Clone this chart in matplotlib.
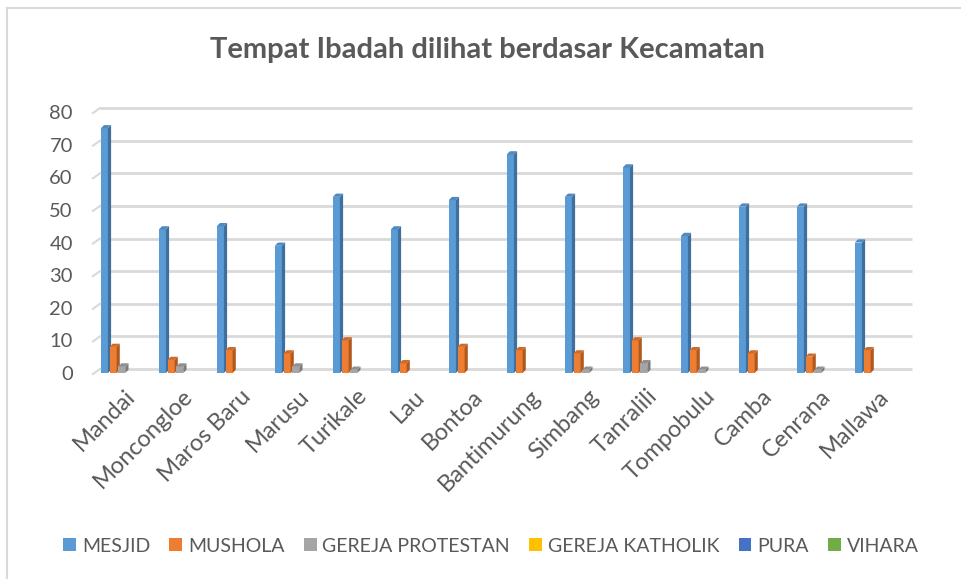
import matplotlib
matplotlib.use("Agg")
import matplotlib.pyplot as plt
import matplotlib.transforms as mtransforms
from matplotlib.patches import Polygon, Rectangle
from matplotlib.lines import Line2D

categories = ["Mandai", "Moncongloe", "Maros Baru", "Marusu", "Turikale", "Lau",
              "Bontoa", "Bantimurung", "Simbang", "Tanralili", "Tompobulu",
              "Camba", "Cenrana", "Mallawa"]
series_names = ["MESJID", "MUSHOLA", "GEREJA PROTESTAN", "GEREJA KATHOLIK", "PURA", "VIHARA"]
mesjid = [75, 44, 45, 39, 54, 44, 53, 67, 54, 63, 42, 51, 51, 40]
mushola = [8, 4, 7, 6, 10, 3, 8, 7, 6, 10, 7, 6, 5, 7]
gereja_protestan = [2, 2, 0, 2, 1, 0, 0, 0, 1, 3, 1, 0, 1, 0]
gereja_katholik = [0] * 14
pura = [0] * 14
vihara = [0] * 14
yticks = [0, 10, 20, 30, 40, 50, 60, 70, 80]

series = [mesjid, mushola, gereja_protestan, gereja_katholik, pura, vihara]
front = ["#5B9BD5", "#ED7D31", "#A5A5A5", "#FFC000", "#4472C4", "#70AD47"]
side = ["#3F6F9C", "#B0591F", "#7A7A7A", "#BF9000", "#2F5597", "#507E32"]
top = ["#4F89BE", "#D06A26", "#909090", "#E0A800", "#3A62AC", "#5F9A3C"]

W, H = 961, 579
fig = plt.figure(figsize=(W / 100, H / 100), dpi=100)
fig.patch.set_facecolor("white")

# chart border (left & top visible)
fig.add_artist(Line2D([7 / W, 7 / W], [0, 1 - 8 / H], transform=fig.transFigure,
                      color="#D9D9D9", lw=1.5))
fig.add_artist(Line2D([7 / W, 1], [1 - 8 / H, 1 - 8 / H], transform=fig.transFigure,
                      color="#D9D9D9", lw=1.5))

x0, x1 = 95, 907
y0, y1 = 373, 112
ax = fig.add_axes([x0 / W, 1 - y0 / H, (x1 - x0) / W, (y0 - y1) / H])
ax.set_xlim(-0.5, len(categories) - 0.5)
ax.set_ylim(0, 80)
for s in ax.spines.values():
    s.set_visible(False)
ax.set_yticks(yticks)
ax.set_yticklabels([str(t) for t in yticks])
ax.tick_params(axis="y", length=0, pad=16, labelsize=14.5, labelcolor="#595959")
ax.set_xticks(range(len(categories)))
ax.set_xticklabels(categories, rotation=45, ha="right", va="top",
                   rotation_mode="anchor")
ax.tick_params(axis="x", length=0, pad=9, labelsize=17, labelcolor="#595959")
for lab in ax.get_xticklabels() + ax.get_yticklabels():
    lab.set_family("Lato")

# back gridlines with 3D offset
ddx, ddy = 5 / 100, 4 / 100  # inches
off = mtransforms.ScaledTranslation(ddx, ddy, fig.dpi_scale_trans)
for t in yticks:
    ax.plot([-0.5, len(categories) - 0.5 - 0.0], [t, t], color="#D9D9D9", lw=2,
            transform=ax.transData + off, zorder=0, clip_on=False,
            solid_capstyle="butt")
    p0 = ax.transData.transform((-0.5, t))
    p1 = (ax.transData + off).transform((-0.5, t))
    fig.add_artist(Line2D([(p0[0] - 2) / W, p1[0] / W], [(p0[1] - 1) / H, p1[1] / H],
                          transform=fig.transFigure, color="#D9D9D9", lw=1.5))

bw = 0.15
start = -0.40
inv = ax.transData.inverted()
o = ax.transData.transform((0, 0))
d = inv.transform((o[0] + 3.2, o[1] + 3.2))
dxd, dyd = d[0], d[1]

for si, vals in enumerate(series):
    for ci, v in enumerate(vals):
        if v <= 0:
            continue
        xl = ci + start + si * bw
        xr = xl + bw - dxd * 0.5
        ax.add_patch(Rectangle((xl, 0), xr - xl, v, facecolor=front[si],
                               edgecolor="none", zorder=3 + si))
        ax.add_patch(Polygon([(xr, 0), (xr + dxd, dyd), (xr + dxd, v + dyd), (xr, v)],
                             closed=True, facecolor=side[si], edgecolor="none",
                             zorder=3 + si))
        ax.add_patch(Polygon([(xl, v), (xl + dxd, v + dyd), (xr + dxd, v + dyd), (xr, v)],
                             closed=True, facecolor=top[si], edgecolor="none",
                             zorder=3 + si))

fig.text(487 / W, 1 - 50 / H, "Tempat Ibadah dilihat berdasar Kecamatan",
         ha="center", va="center", fontsize=21, fontweight="bold",
         color="#595959", family="Lato")

handles = [Rectangle((0, 0), 1, 1, facecolor=c, edgecolor="none") for c in front]
leg = fig.legend(handles, series_names, loc="center", bbox_to_anchor=(491 / W, 1 - 546 / H),
                 ncol=6, frameon=False, handlelength=0.65,
                 handleheight=0.65, handletextpad=0.3, columnspacing=1.0,
                 labelcolor="#595959", prop={"family": "Lato", "size": 14})

fig.savefig("out.png", dpi=100, facecolor="white")
